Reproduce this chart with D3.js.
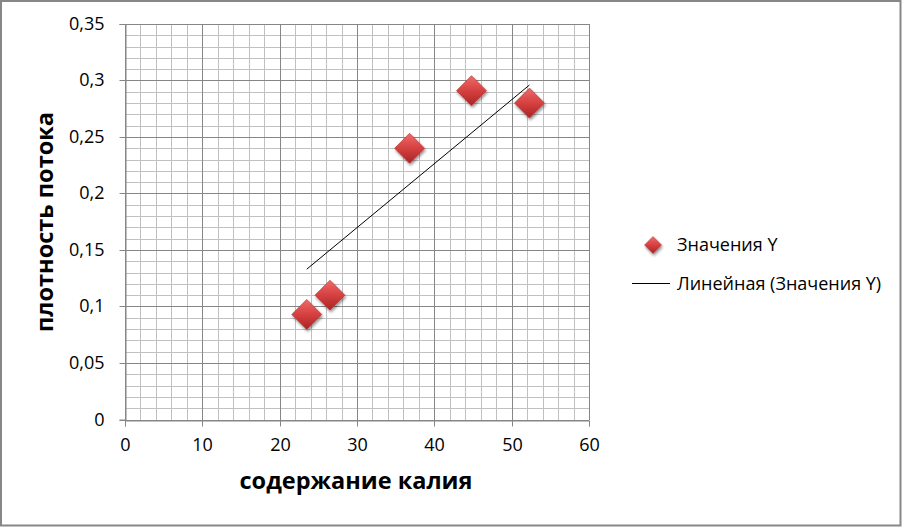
<!DOCTYPE html>
<html><head><meta charset="utf-8">
<script src="https://cdn.jsdelivr.net/npm/d3@7"></script>
<style>
html,body{margin:0;padding:0;background:#fff;}
svg{display:block;}
</style></head>
<body>
<svg id="c" width="902" height="527"></svg>
<script>
const xValues = [23.5, 26.5, 36.8, 44.8, 52.3];
const yValues = [0.093, 0.110, 0.240, 0.291, 0.280];
const trendX = [23.5, 52.3];
const trendY = [0.133, 0.296];
const xTicks = [0, 10, 20, 30, 40, 50, 60];
const yTicks = [0, 0.05, 0.1, 0.15, 0.2, 0.25, 0.3, 0.35];
const xTitle = "содержание калия";
const yTitle = "плотность потока";
const legendLabels = ["Значения Y", "Линейная (Значения Y)"];

const svg = d3.select("#c");
const W = 902, H = 527;
const FONT = "'Open Sans', 'Noto Sans', sans-serif";
svg.append("rect").attr("x",1).attr("y",1).attr("width",W-2.5).attr("height",H-2.5)
  .attr("fill","#fff").attr("stroke","#878787").attr("stroke-width",2);

const x = d3.scaleLinear().domain([0,60]).range([125,589]);
const y = d3.scaleLinear().domain([0,0.35]).range([419.5,24]);

const defs = svg.append("defs");
const g1 = defs.append("linearGradient").attr("id","dg").attr("x1","0").attr("y1","0").attr("x2","0").attr("y2","1");
g1.append("stop").attr("offset","0").attr("stop-color","#ef6a6a");
g1.append("stop").attr("offset","0.5").attr("stop-color","#d64040");
g1.append("stop").attr("offset","1").attr("stop-color","#a82424");
const f = defs.append("filter").attr("id","sh").attr("x","-50%").attr("y","-50%").attr("width","200%").attr("height","200%");
f.append("feGaussianBlur").attr("in","SourceAlpha").attr("stdDeviation",1.6);
f.append("feOffset").attr("dx",1).attr("dy",2).attr("result","b");
f.append("feComponentTransfer").append("feFuncA").attr("type","linear").attr("slope",0.45);
const m = f.append("feMerge"); m.append("feMergeNode"); m.append("feMergeNode").attr("in","SourceGraphic");

// minor grid
const xMinor = d3.range(0, 60.001, 2);
const yMinor = d3.range(0, 0.3501, 0.01);
const grid = svg.append("g").attr("shape-rendering","crispEdges");
grid.selectAll(".vx").data(xMinor).join("line")
  .attr("x1",d=>Math.round(x(d))+0.5).attr("x2",d=>Math.round(x(d))+0.5)
  .attr("y1",y(0)).attr("y2",y(0.35)).attr("stroke","#c0c0c0");
grid.selectAll(".hy").data(yMinor).join("line")
  .attr("y1",d=>Math.round(y(d))+0.5).attr("y2",d=>Math.round(y(d))+0.5)
  .attr("x1",x(0)).attr("x2",x(60)).attr("stroke","#c0c0c0");
grid.selectAll(".VX").data(xTicks).join("line")
  .attr("x1",d=>Math.round(x(d))+0.5).attr("x2",d=>Math.round(x(d))+0.5)
  .attr("y1",y(0)).attr("y2",y(0.35)).attr("stroke","#868686");
grid.selectAll(".HY").data(yTicks).join("line")
  .attr("y1",d=>Math.round(y(d))+0.5).attr("y2",d=>Math.round(y(d))+0.5)
  .attr("x1",x(0)).attr("x2",x(60)).attr("stroke","#868686");

// axes
const fmt = d => String(d).replace(".", ",");
const xa = svg.append("g").attr("transform",`translate(0,${Math.round(y(0))+0.5})`)
  .call(d3.axisBottom(x).tickValues(xTicks).tickSize(6).tickPadding(12).tickFormat(fmt));
const ya = svg.append("g").attr("transform",`translate(${Math.round(x(0))+0.5},0)`)
  .call(d3.axisLeft(y).tickValues(yTicks).tickSize(6).tickPadding(15).tickFormat(fmt));
[xa,ya].forEach(a=>{
  a.select(".domain").attr("stroke","#868686");
  a.selectAll(".tick line").attr("stroke","#868686");
  a.selectAll("text").attr("fill","#000").style("font-family",FONT).style("font-size","18px");
});
ya.selectAll(".tick").attr("transform", d=>`translate(0,${Math.round(y(d))+0.5})`);
xa.selectAll(".tick").attr("transform", d=>`translate(${Math.round(x(d))+0.5},0)`);

// trendline
svg.append("path").datum(d3.zip(trendX,trendY))
  .attr("d", d3.line().x(d=>x(d[0])).y(d=>y(d[1])))
  .attr("stroke","#000").attr("stroke-width",1).attr("fill","none");

// markers
const diamond = s => `M0,${-s}L${s},0L0,${s}L${-s},0Z`;
svg.selectAll(".pt").data(d3.zip(xValues,yValues)).join("path")
  .attr("transform",d=>`translate(${x(d[0])},${y(d[1])})`)
  .attr("d",diamond(15)).attr("fill","url(#dg)").attr("stroke","#b83030").attr("stroke-width",0.6)
  .attr("filter","url(#sh)");

// titles
svg.append("text").attr("x",356).attr("y",489).attr("text-anchor","middle")
  .style("font-family",FONT).style("font-weight","bold").style("font-size","23.5px")
  .text(xTitle);
svg.append("text").attr("transform","translate(53,222) rotate(-90)").attr("text-anchor","middle")
  .style("font-family",FONT).style("font-weight","bold").style("font-size","23.5px")
  .text(yTitle);

// legend
const lg = svg.append("g");
lg.append("path").attr("transform","translate(653,245)").attr("d",diamond(8.5))
  .attr("fill","url(#dg)").attr("stroke","#b83030").attr("stroke-width",0.5).attr("filter","url(#sh)");
lg.append("line").attr("x1",632).attr("x2",670).attr("y1",283.5).attr("y2",283.5).attr("stroke","#000");
lg.selectAll("text").data(legendLabels).join("text")
  .attr("x",677).attr("y",(d,i)=>251+i*39)
  .style("font-family",FONT).style("font-size","18px")
  .text(d=>d);
</script>
</body></html>
